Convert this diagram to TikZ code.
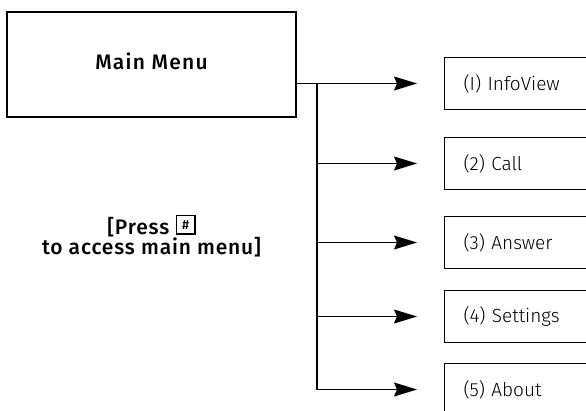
\documentclass[tikz,border=0pt]{standalone}
\usepackage{fontspec}
\setmainfont{Fira Sans}[UprightFont=* Light, BoldFont=* Medium]
\usetikzlibrary{arrows.meta}
\begin{document}
\begin{tikzpicture}[x=1pt,y=-1pt,
  menubox/.style={draw, line width=2.4pt, minimum width=289pt, minimum height=105pt,
    inner sep=0pt, font=\bfseries\fontsize{21}{24}\selectfont\addfontfeature{LetterSpace=6}},
  itembox/.style={draw, line width=1.1pt, anchor=west, minimum height=52pt,
    text width=150pt, inner xsep=19pt, align=left, font=\fontsize{19}{22}\selectfont},
  link/.style={line width=1.1pt},
  arr/.style={link, -{Stealth[length=23pt, width=14pt, inset=3pt]}},
  keycap/.style={draw, line width=0.9pt, inner sep=1pt, minimum size=18pt,
    font=\bfseries\fontsize{13}{13}\selectfont},
  note/.style={anchor=base, inner sep=0pt,
    font=\bfseries\fontsize{21}{21}\selectfont\addfontfeature{LetterSpace=4}}
]
\clip (0,0) rectangle (586,410);
\fill[white] (0,0) rectangle (586,410);

% main menu box and its note
\node[menubox] (main) at (151.5,64.5) {Main Menu\\[-4pt]\strut};
\node[note] (press) at (151.5,234) {[Press \tikz[baseline=-5pt]{\node[keycap] (key) {\#};
    \draw[line width=1.4pt] (key.south west) -- (key.south east) -- (key.north east);}};
\node[note] (access) at (151.5,254) {to access main menu]};

% menu entries
\node[itembox] (b1) at (444,83.5)  {(I) InfoView};
\node[itembox] (b2) at (444,163.5) {(2) Call};
\node[itembox] (b3) at (444,242.5) {(3) Answer};
\node[itembox] (b4) at (444,316.5) {(4) Settings};
\node[itembox] (b5) at (444,389.5) {(5) About};

% branching connectors
\coordinate (sp) at (317,0);
\draw[arr] (main.east |- b1) -- ([xshift=-27pt]b1.west);
\draw[link] (sp |- b1) -- (sp |- b5);
\foreach \b in {b2,b3,b4,b5}
  \draw[arr] (sp |- \b) -- ([xshift=-27pt]\b.west);
\end{tikzpicture}
\end{document}
